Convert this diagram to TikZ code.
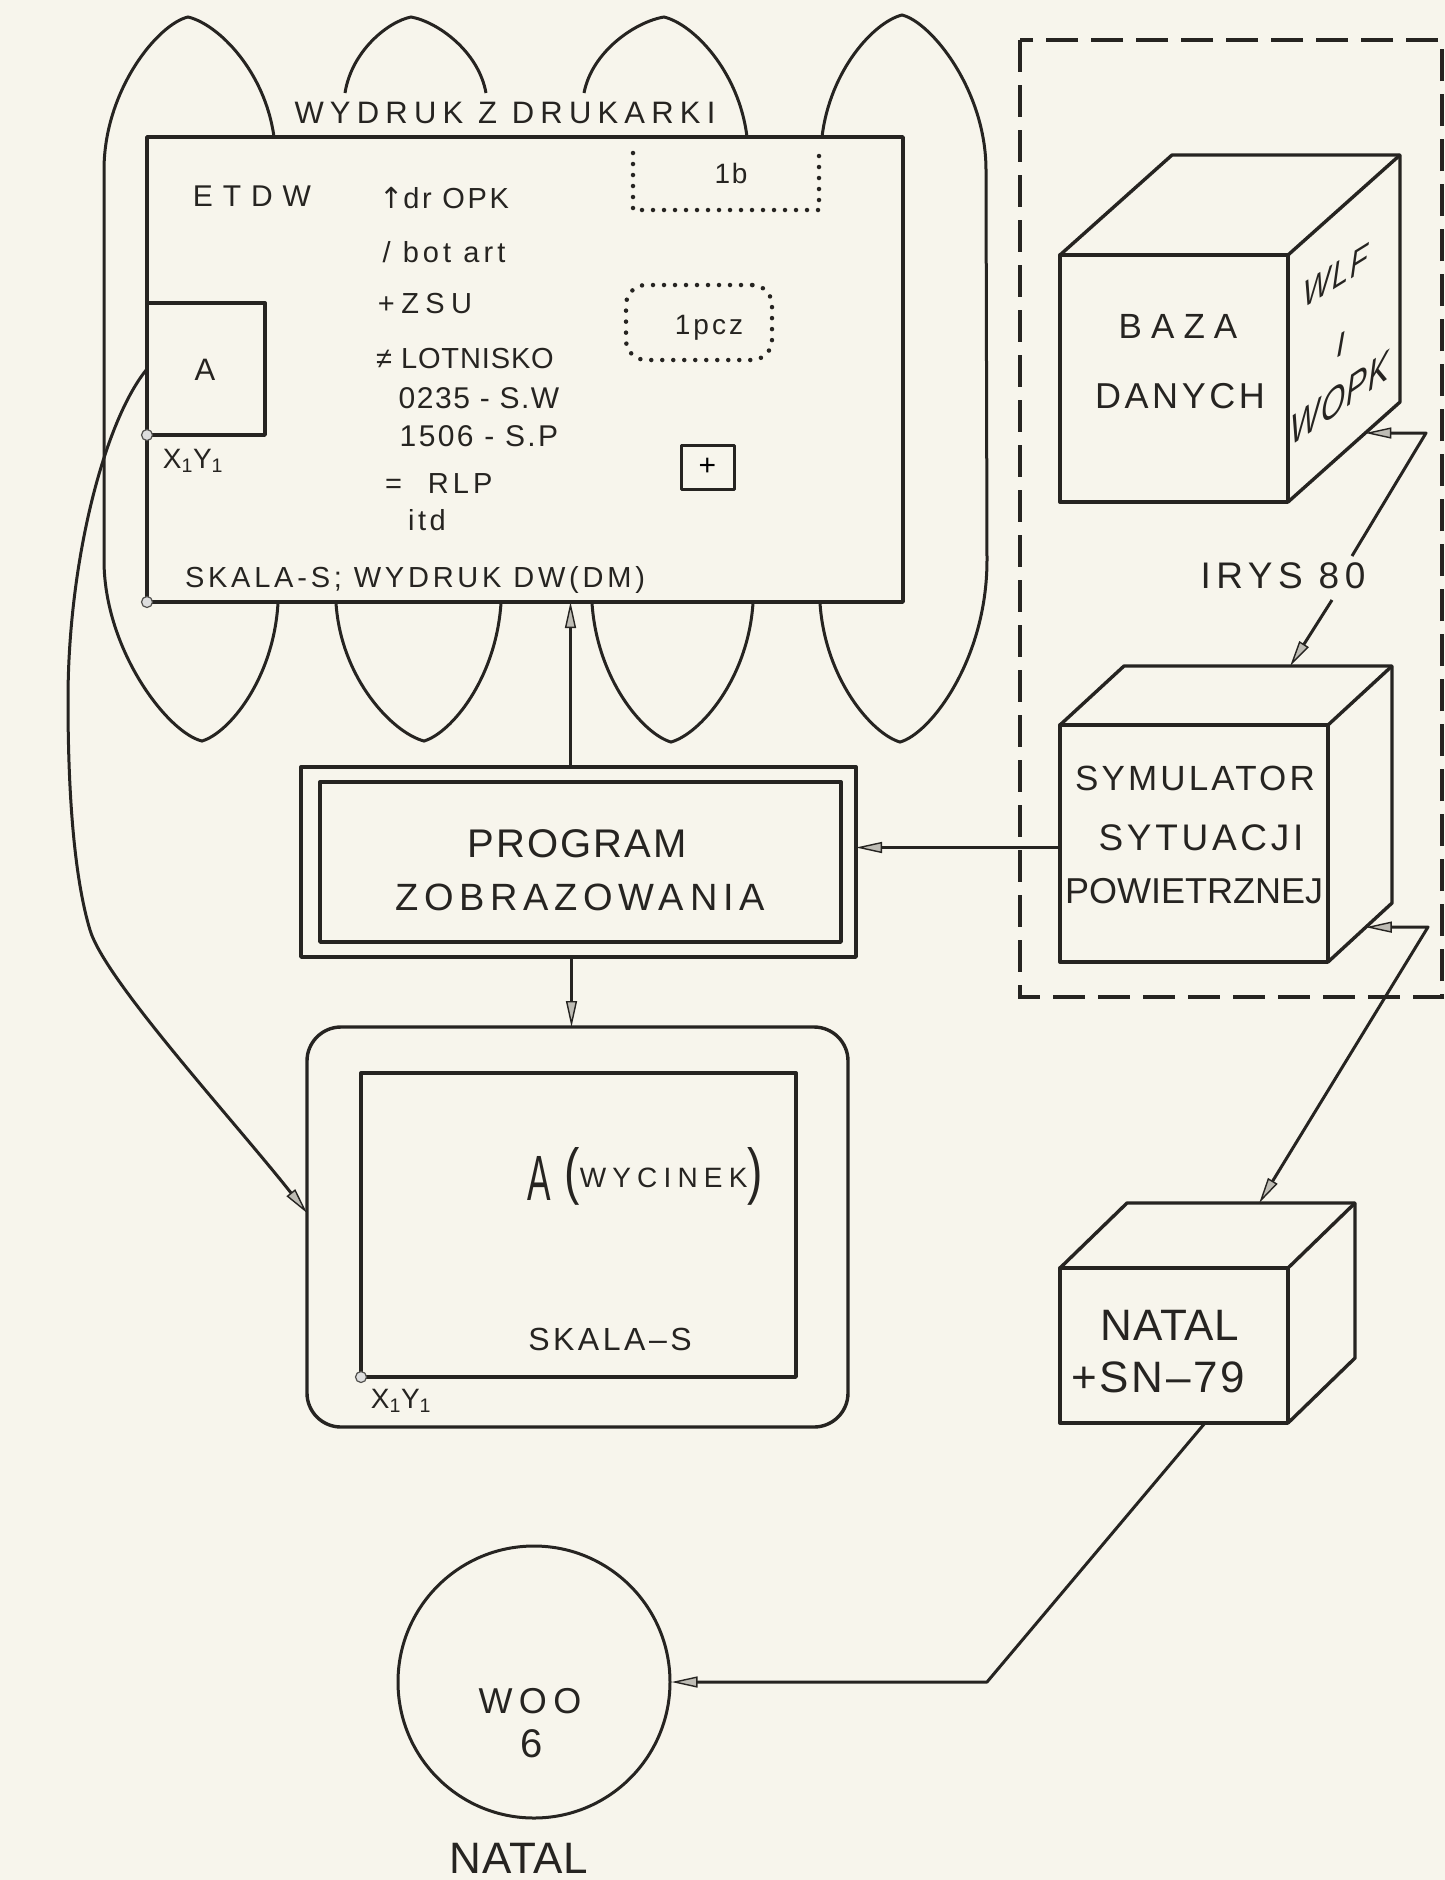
\documentclass[tikz,border=0pt]{standalone}
\usepackage{graphicx}
\usepackage{fontspec}
\setmainfont{Liberation Sans}
\newfontfamily\dejavu{DejaVu Sans}
\usetikzlibrary{arrows.meta,calc}
\definecolor{ink}{RGB}{38,36,33}
\definecolor{paper}{RGB}{247,245,236}
\definecolor{tipfill}{RGB}{190,188,180}
\newcommand{\mytx}[3]{{\fontsize{#1}{#1}\selectfont\addfontfeature{LetterSpace=#2}#3}}
\begin{document}
\begin{tikzpicture}[x=1pt,y=-1pt,
  ln/.style={draw=ink,line width=3.4pt,line join=round},
  box/.style={ln,rectangle,inner sep=0pt,outer sep=0pt},
  tx/.style={inner sep=0pt,outer sep=0pt,text=ink},
  arr/.style={ln,line width=3pt,-{Triangle[length=26pt,width=11pt,fill=tipfill,line width=1.4pt]}},
  darr/.style={ln,line width=3pt,{Triangle[length=26pt,width=11pt,fill=tipfill,line width=1.4pt]}-{Triangle[length=26pt,width=11pt,fill=tipfill,line width=1.4pt]}},
  dotln/.style={draw=ink,line width=4.5pt,line cap=round,dash pattern=on 0pt off 11pt},
  dashln/.style={draw=ink,line width=4pt,dash pattern=on 32pt off 13pt},
  paperln/.style={draw=ink,line width=3pt},
  pin/.style={circle,draw=ink!80,fill=ink!15,line width=1.2pt,minimum size=11pt,inner sep=0pt},
]
\useasboundingbox (0,0) rectangle (1445,1880);
\fill[paper] (0,0) rectangle (1445,1880);
\clip (0,0) rectangle (1445,1880);

% ---------- printout (paper loops) ----------
\draw[paperln] (274,137) .. controls (265,71) and (218,24) .. (188,17) .. controls (158,24) and (104,90) .. (104,170) -- (104,560) .. controls (104,650) and (168,733) .. (202,741) .. controls (229,733) and (273.5,679) .. (278,603);
\draw[paperln] (345,93) .. controls (351.6,51) and (388,21.6) .. (411,17) .. controls (437,21.6) and (478.5,51) .. (486,93);
\draw[paperln] (584,93) .. controls (592,51) and (636,21.6) .. (664,17) .. controls (693,24) and (739,71) .. (747,137);
\draw[paperln] (336,603) .. controls (341,679) and (393,733) .. (424,741) .. controls (451,733) and (496,679) .. (501,603);
\draw[paperln] (592,603) .. controls (597,679) and (643,734) .. (671,742) .. controls (700,734) and (748,679) .. (753,603);
\draw[paperln] (820,603) .. controls (825,679) and (872,734) .. (900,742) .. controls (930,734) and (987,660) .. (987,560) -- (986,170) .. controls (986,90) and (931,22) .. (902,15) .. controls (874,22) and (830,70) .. (822,137);

\node[tx,anchor=base] (wydruk) at (505,123) {\mytx{31}{20}{WYDRUK Z DRUKARKI}};

% ---------- ETDW box ----------
\node[box,minimum width=756pt,minimum height=465pt] (etdw) at (525,369.5) {};
\node[box,minimum width=118pt,minimum height=132pt] (abox) at (206,369) {};
\node[tx,anchor=base] (atxt) at (205,380) {\mytx{31}{0}{A}};
\node[pin] (pinA) at (abox.south west) {};
\node[pin] (pinE) at (etdw.south west) {};
\node[tx,anchor=base] (xy1) at (193,468) {\mytx{28}{4}{X\textsubscript{1}Y\textsubscript{1}}};

\node[tx,anchor=base] (etdwt) at (252,206) {\mytx{30}{33}{ETDW}};
\node[tx,anchor=base] (l1) at (444,208) {\mytx{29}{9}{{\dejavu ↑}dr OPK}};
\node[tx,anchor=base] (l2) at (444,262) {\mytx{29}{14}{/ bot art}};
\node[tx,anchor=base] (l3) at (425,313) {\mytx{29}{22}{+ZSU}};
\node[tx,anchor=base] (l4) at (465,368) {\mytx{29}{3}{≠ LOTNISKO}};
\node[tx,anchor=base] (l5) at (479,408) {\mytx{30}{5}{0235 - S.W}};
\node[tx,anchor=base] (l6) at (479,446) {\mytx{30}{8}{1506 - S.P}};
\node[tx,anchor=base west] (l7) at (385,493) {\mytx{29}{14}{=\hspace{26pt}RLP}};
\node[tx,anchor=base] (l8) at (427,530) {\mytx{29}{12}{itd}};
\node[tx,anchor=base] (skala1) at (415,587) {\mytx{29}{13}{SKALA-S; WYDRUK DW(DM)}};

\draw[dotln] (633,153) -- (633,210) -- (819,210) -- (819,153);
\node[tx,anchor=base] (b1) at (731,183) {\mytx{28}{6}{1b}};
\node[dotln,rectangle,rounded corners=20pt,minimum width=146pt,minimum height=75pt] (pcz) at (699,322.5) {};
\node[tx,anchor=base] (pczt) at (709,334) {\mytx{28}{11}{1pcz}};
\node[box,line width=3pt,minimum width=53pt,minimum height=44pt] (plus) at (707.5,467) {\mytx{30}{0}{+}};

% ---------- PROGRAM ----------
\node[box,minimum width=555pt,minimum height=190pt] (prog) at (578.5,862) {};
\node[box,minimum width=521pt,minimum height=160pt] (progin) at (580.5,862) {};
\node[tx,anchor=base] (progt1) at (577,857) {\mytx{40}{5}{PROGRAM}};
\node[tx,anchor=base] (progt2) at (580,910) {\mytx{38}{15}{ZOBRAZOWANIA}};

% ---------- screen ----------
\node[box,rounded corners=34pt,minimum width=541pt,minimum height=400pt] (scr) at (577.5,1227) {};
\node[box,minimum width=435pt,minimum height=304pt] (scrin) at (578.5,1225) {};
\node[pin] (pinS) at (scrin.south west) {};
\node[tx,anchor=base west] (wyc) at (527,1200) {\scalebox{0.55}[1]{\fontsize{64}{64}\selectfont A}\hspace{14pt}\raisebox{8pt}{\scalebox{1}[1.35]{\fontsize{46}{46}\selectfont(}}\raisebox{13pt}{\mytx{28}{22}{WYCINEK}}\raisebox{8pt}{\scalebox{1}[1.35]{\fontsize{46}{46}\selectfont)}}};
\node[tx,anchor=base] (skala2) at (610,1350) {\mytx{32}{11}{SKALA–S}};
\node[tx,anchor=base] (xy2) at (401,1408) {\mytx{28}{4}{X\textsubscript{1}Y\textsubscript{1}}};

% ---------- dashed system frame ----------
\draw[dashln] (1020,40) rectangle (1442,997);

% ---------- BAZA DANYCH cube ----------
\node[box,minimum width=228pt,minimum height=247pt] (baza) at (1174,378.5) {};
\coordinate (bazaTL) at ($(baza.north west)+(112,-100)$);
\coordinate (bazaTR) at ($(baza.north east)+(112,-100)$);
\coordinate (bazaBR) at ($(baza.south east)+(112,-100)$);
\draw[ln] (baza.north west) -- (bazaTL) -- (bazaTR) -- (bazaBR) -- (baza.south east);
\draw[ln] (baza.north east) -- (bazaTR);
\node[tx,anchor=base] (baza1) at (1178,338) {\mytx{35}{26}{BAZA}};
\node[tx,anchor=base] (baza2) at (1180,408) {\mytx{36}{10}{DANYCH}};
\node[tx,yslant=0.62] (wlf) at (1336,276) {\scalebox{0.78}[1]{\itshape\mytx{37}{6}{WLF}}};
\node[tx,yslant=0.6] (wi) at (1341,345) {\itshape\mytx{32}{0}{I}};
\node[tx,yslant=0.68] (wopk) at (1340,398) {\scalebox{0.74}[1]{\itshape\mytx{42}{4}{WOPK}}};

\node[tx,anchor=base] (irys) at (1283,588) {\mytx{37}{15}{IRYS 80}};

% ---------- SYMULATOR cube ----------
\node[box,minimum width=268pt,minimum height=237pt] (sym) at (1194,843.5) {};
\coordinate (symTL) at ($(sym.north west)+(64,-59)$);
\coordinate (symTR) at ($(sym.north east)+(64,-59)$);
\coordinate (symBR) at ($(sym.south east)+(64,-59)$);
\draw[ln] (sym.north west) -- (symTL) -- (symTR) -- (symBR) -- (sym.south east);
\draw[ln] (sym.north east) -- (symTR);
\node[tx,anchor=base] (sym1) at (1195,790) {\mytx{35}{9}{SYMULATOR}};
\node[tx,anchor=base] (sym2) at (1201,850) {\mytx{37}{10}{SYTUACJI}};
\node[tx,anchor=base] (sym3) at (1194,903) {\mytx{36}{0}{POWIETRZNEJ}};

% ---------- NATAL cube ----------
\node[box,minimum width=228pt,minimum height=155pt] (natal) at (1174,1345.5) {};
\coordinate (natTL) at ($(natal.north west)+(67,-65)$);
\coordinate (natTR) at ($(natal.north east)+(67,-65)$);
\coordinate (natBR) at ($(natal.south east)+(67,-65)$);
\draw[ln] (natal.north west) -- (natTL) -- (natTR) -- (natBR) -- (natal.south east);
\draw[ln] (natal.north east) -- (natTR);
\node[tx,anchor=base] (nat1) at (1170,1340) {\mytx{44}{2}{NATAL}};
\node[tx,anchor=base] (nat2) at (1158,1392) {\mytx{44}{6}{+SN–79}};

% ---------- WOO 6 ----------
\node[ln,line width=3pt,circle,minimum size=272pt,inner sep=0pt] (woo) at (534,1682) {};
\node[tx,anchor=base] (woo1) at (530,1713) {\mytx{36}{18}{WOO}};
\node[tx,anchor=base] (woo2) at (532,1757) {\mytx{40}{0}{6}};
\node[tx,anchor=base] (natal2) at (519,1873) {\mytx{44}{2}{NATAL}};

% ---------- connectors ----------
\draw[arr] ([xshift=-8pt]prog.north) -- ([xshift=-8pt]prog.north |- etdw.south);
\draw[arr] ([xshift=-7pt]prog.south) -- ([xshift=-7pt]prog.south |- scr.north);
\draw[arr] ([yshift=-4pt]sym.west) -- ([yshift=-4pt]sym.west -| prog.east);

\coordinate (irysA) at (1352,556);
\coordinate (bazaK) at (1426,433);
\coordinate (bazaIn) at ($(baza.south east)!0.69!(bazaBR)$);
\draw[arr] (irysA) -- (bazaK) -- (bazaIn);

\coordinate (irysB) at (1332,600);
\coordinate (symIn) at ($(symTL)!0.62!(symTR)$);
\draw[arr] (irysB) -- (symIn);

\coordinate (symOut) at ($(sym.south east)!0.59!(symBR)$);
\coordinate (symK) at (1428,927);
\coordinate (natIn) at ($(natTL)!0.58!(natTR)$);
\draw[darr] (symOut) -- (symK) -- (natIn);

\coordinate (wooK) at (987,1682);
\draw[arr] ([xshift=31pt]natal.south) -- (wooK) -- (woo.east);

\draw[arr] (abox.west) .. controls (105,420) and (68,560) .. (68,700) .. controls (68,800) and (75,880) .. (90,930) .. controls (105,980) and (230,1116) .. ([yshift=14pt]scr.west);
\end{tikzpicture}
\end{document}
